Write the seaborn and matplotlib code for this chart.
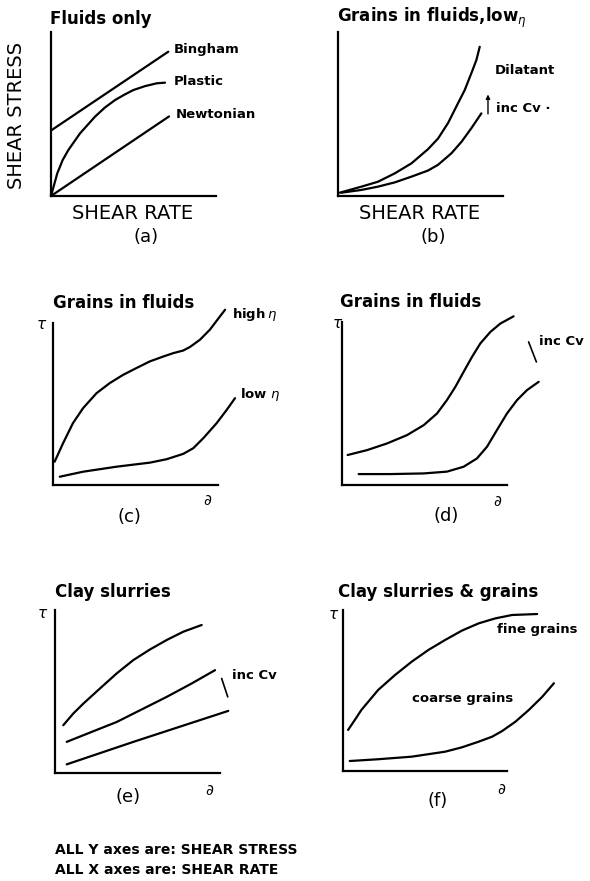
import matplotlib
matplotlib.use("Agg")
import matplotlib.pyplot as plt
import seaborn as sns

# ---- curve data (schematic units: each axis runs 0..10) ----
# (a) Fluids only
bingham_x = [0.04, 7.11]
bingham_y = [4.02, 8.80]
plastic_x = [0.0, 0.38, 0.71, 1.05, 1.76, 2.67, 3.25, 3.88, 4.45, 4.99, 5.70, 6.40, 6.91]
plastic_y = [0.0, 1.38, 2.20, 2.80, 3.82, 4.84, 5.38, 5.85, 6.18, 6.46, 6.70, 6.87, 6.91]
newtonian_x = [0.0, 7.15]
newtonian_y = [0.0, 4.85]

# (b) Grains in fluids, low viscosity (dilatant)
dil_hi_x = [0.10, 1.42, 2.42, 3.44, 4.45, 5.45, 6.06, 6.67, 7.27, 7.68, 8.08, 8.39, 8.59]
dil_hi_y = [0.20, 0.57, 0.87, 1.38, 1.99, 2.85, 3.50, 4.45, 5.65, 6.46, 7.48, 8.30, 9.10]
dil_lo_x = [0.20, 1.42, 2.42, 3.44, 4.45, 5.45, 6.06, 6.87, 7.48, 8.08, 8.69]
dil_lo_y = [0.20, 0.37, 0.57, 0.83, 1.18, 1.55, 1.90, 2.60, 3.30, 4.13, 5.04]

# (c) Grains in fluids, high / low viscosity
c_high_x = [0.10, 0.61, 1.21, 1.82, 2.64, 3.44, 4.25, 5.06, 5.87, 6.68, 7.29, 7.89,
            8.30, 8.91, 9.51, 10.12, 10.43]
c_high_y = [1.44, 2.58, 3.82, 4.74, 5.67, 6.29, 6.80, 7.22, 7.63, 7.93, 8.14, 8.30,
            8.52, 8.97, 9.59, 10.41, 10.82]
c_low_x = [0.41, 1.82, 3.85, 5.87, 6.88, 7.89, 8.50, 9.11, 9.92, 10.53, 11.03]
c_low_y = [0.51, 0.82, 1.13, 1.38, 1.59, 1.92, 2.27, 2.89, 3.82, 4.64, 5.36]

# (d) Grains in fluids, increasing concentration
d_up_x = [0.34, 1.52, 2.73, 3.94, 4.95, 5.76, 6.36, 6.87, 7.37, 7.88, 8.38, 8.99, 9.59, 10.40]
d_up_y = [1.84, 2.14, 2.55, 3.06, 3.67, 4.39, 5.21, 6.02, 6.94, 7.86, 8.68, 9.39, 9.90, 10.35]
d_lo_x = [1.01, 2.93, 4.95, 6.36, 7.37, 8.18, 8.79, 9.39, 10.00, 10.61, 11.21, 11.92]
d_lo_y = [0.67, 0.67, 0.71, 0.82, 1.12, 1.63, 2.35, 3.37, 4.39, 5.21, 5.82, 6.33]
d_tick_x = [11.31, 11.78]
d_tick_y = [8.78, 7.55]

# (e) Clay slurries
e_up_x = [0.50, 1.11, 1.72, 2.73, 3.74, 4.75, 5.76, 6.77, 7.78, 8.89]
e_up_y = [2.93, 3.65, 4.26, 5.19, 6.11, 6.93, 7.58, 8.16, 8.67, 9.08]
e_mid_x = [0.71, 2.22, 3.74, 6.77, 8.28, 9.70]
e_mid_y = [1.91, 2.52, 3.13, 4.67, 5.49, 6.31]
e_lo_x = [0.71, 4.75, 10.50]
e_lo_y = [0.53, 1.91, 3.81]
e_tick_x = [10.10, 10.47]
e_tick_y = [5.80, 4.67]

# (f) Clay slurries & grains
f_fine_x = [0.31, 0.72, 1.12, 2.14, 3.17, 4.19, 5.21, 6.23, 7.25, 8.27, 9.29, 10.31, 11.84]
f_fine_y = [2.55, 3.17, 3.79, 5.03, 5.96, 6.79, 7.52, 8.14, 8.72, 9.17, 9.48, 9.69, 9.75]
f_coarse_x = [0.41, 2.14, 4.19, 6.23, 7.25, 8.27, 9.09, 9.70, 10.51, 11.33, 12.15, 12.86]
f_coarse_y = [0.62, 0.73, 0.89, 1.20, 1.47, 1.82, 2.13, 2.48, 3.06, 3.79, 4.61, 5.45]

titles = ["Fluids only", r"Grains in fluids,low$_{\eta}$", "Grains in fluids",
          "Grains in fluids", "Clay slurries", "Clay slurries & grains"]
letters = ["(a)", "(b)", "(c)", "(d)", "(e)", "(f)"]
footer = ["ALL Y axes are: SHEAR STRESS", "ALL X axes are: SHEAR RATE"]

# ---- figure ----
sns.set_theme(style="white")
plt.rcParams["font.family"] = ["DejaVu Sans"]
plt.rcParams["text.color"] = "black"

W, H = 590, 881
fig = plt.figure(figsize=(W / 100, H / 100), dpi=100)
fig.patch.set_facecolor("white")

LW = 1.6


def panel(left, right, top, bottom):
    ax = fig.add_axes([left / W, 1 - bottom / H, (right - left) / W, (bottom - top) / H])
    ax.set_xlim(0, 10)
    ax.set_ylim(0, 10)
    ax.set_facecolor("none")
    for s in ("top", "right"):
        ax.spines[s].set_visible(False)
    for s in ("left", "bottom"):
        ax.spines[s].set_color("black")
        ax.spines[s].set_linewidth(LW)
    ax.set_xticks([])
    ax.set_yticks([])
    return ax


def curve(ax, x, y):
    sns.lineplot(x=x, y=y, ax=ax, color="black", lw=LW, estimator=None,
                 sort=False, clip_on=False)
    ax.lines[-1].set_solid_joinstyle("round")


def label(ax, x, y, s, size=9.5, weight="bold", **kw):
    ax.text(x, y, s, fontsize=size, fontweight=weight, color="black",
            clip_on=False, **kw)


boxes = [(51, 216, 32, 196), (338, 503, 32, 196),
         (53, 218, 323, 485), (342, 507, 322, 485),
         (55, 220, 610, 773), (343, 507, 610, 771)]
axes = [panel(*b) for b in boxes]
ax_a, ax_b, ax_c, ax_d, ax_e, ax_f = axes

# titles (baseline positions in pixels)
title_pos = [(50, 24), (337, 22), (53, 308), (340, 307), (55, 597), (338, 597)]
for (tx, ty), t in zip(title_pos, titles):
    fig.text(tx / W, 1 - ty / H, t, fontsize=12, fontweight="bold",
             ha="left", va="baseline")

# panel letters
letter_pos = [(146, 237), (433, 237), (129, 517), (446, 516), (128, 797), (438, 801)]
for (lx, ly), t in zip(letter_pos, letters):
    fig.text(lx / W, 1 - ly / H, t, fontsize=13, ha="center", va="center")

# (a)
curve(ax_a, bingham_x, bingham_y)
curve(ax_a, plastic_x, plastic_y)
curve(ax_a, newtonian_x, newtonian_y)
label(ax_a, 7.41, 8.94, "Bingham", va="center")
label(ax_a, 7.41, 6.97, "Plastic", va="center")
label(ax_a, 7.56, 5.00, "Newtonian", va="center")
label(ax_a, 4.97, -1.04, "SHEAR RATE", size=14, weight="normal", ha="center", va="center")
label(ax_a, -2.12, 4.94, "SHEAR STRESS", size=14, weight="normal", ha="center",
      va="center", rotation=90)

# (b)
curve(ax_b, dil_hi_x, dil_hi_y)
curve(ax_b, dil_lo_x, dil_lo_y)
label(ax_b, 9.50, 7.68, "Dilatant", va="center")
ax_b.annotate("", xy=(9.09, 6.36), xytext=(9.09, 4.84),
              arrowprops=dict(arrowstyle="-|>", lw=1.0, color="black", mutation_scale=6),
              annotation_clip=False)
label(ax_b, 9.60, 5.35, "inc Cv \u00b7", va="center")
label(ax_b, 4.95, -1.04, "SHEAR RATE", size=14, weight="normal", ha="center", va="center")

# (c)
curve(ax_c, c_high_x, c_high_y)
curve(ax_c, c_low_x, c_low_y)
label(ax_c, 10.83, 10.51, r"high$\,\eta$", va="center")
label(ax_c, 11.34, 5.57, r"low$\ \eta$", va="center")

# (d)
curve(ax_d, d_up_x, d_up_y)
curve(ax_d, d_lo_x, d_lo_y)
ax_d.plot(d_tick_x, d_tick_y, color="black", lw=1.2, clip_on=False)
label(ax_d, 11.92, 8.78, "inc Cv", va="center")

# (e)
curve(ax_e, e_up_x, e_up_y)
curve(ax_e, e_mid_x, e_mid_y)
curve(ax_e, e_lo_x, e_lo_y)
ax_e.plot(e_tick_x, e_tick_y, color="black", lw=1.2, clip_on=False)
label(ax_e, 10.73, 6.00, "inc Cv", va="center")

# (f)
curve(ax_f, f_fine_x, f_fine_y)
curve(ax_f, f_coarse_x, f_coarse_y)
label(ax_f, 9.39, 8.76, "fine grains", va="center")
label(ax_f, 4.19, 4.52, "coarse grains", va="center")

# tau / gamma symbols on panels c-f
tau_pos = [(-0.69, 9.9), (-0.28, 9.9), (-0.75, 9.76), (-0.55, 9.75)]
gam_pos = [(9.35, -0.93), (9.45, -1.02), (9.39, -1.06), (9.66, -1.18)]
for ax, (tx, ty), (gx, gy) in zip(axes[2:], tau_pos, gam_pos):
    ax.text(tx, ty, r"$\tau$", fontsize=11, ha="center", va="center",
            clip_on=False)
    ax.text(gx, gy, r"$\partial$", fontsize=11, ha="center", va="center", clip_on=False)

# footer notes
for i, t in enumerate(footer):
    fig.text(55 / W, 1 - (850 + 20 * i) / H, t, fontsize=10, fontweight="bold",
             ha="left", va="center")

fig.savefig("out.png", dpi=100, facecolor="white")
